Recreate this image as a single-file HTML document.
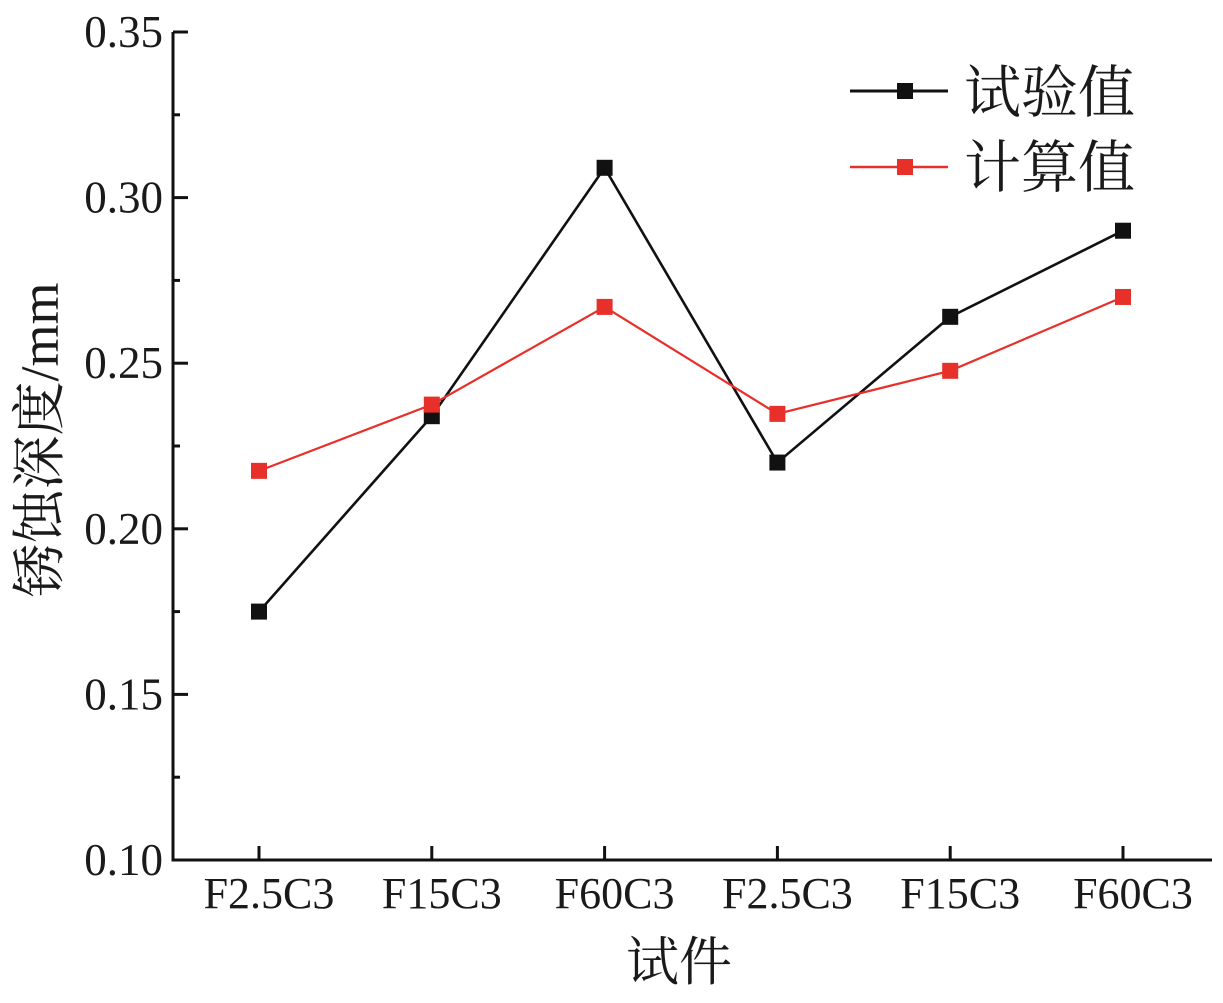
<!DOCTYPE html>
<html><head><meta charset="utf-8"><style>
body{margin:0;background:#fff}
svg text{font-family:"Liberation Serif","Noto Serif CJK SC",serif;fill:#1a1a1a}
</style></head><body>
<svg width="1223" height="998" xmlns="http://www.w3.org/2000/svg">
<g id="axes"></g><g id="series"></g>
<g>
<line x1="850" y1="91" x2="948" y2="91" stroke="#111" stroke-width="3"/>
<rect x="897" y="83" width="16" height="16" fill="#111"/>
<text x="964" y="112" font-size="57">试验值</text>
<line x1="850" y1="167" x2="948" y2="167" stroke="#e8302a" stroke-width="2.6"/>
<rect x="897" y="159" width="16" height="16" fill="#e8302a"/>
<text x="964" y="187" font-size="57">计算值</text>
</g>
<text x="679" y="980" font-size="53" text-anchor="middle">试件</text>
<text transform="translate(58,440) rotate(-90)" font-size="54" text-anchor="middle">锈蚀深度/mm</text>
</svg>
<script>
const categories=["F2.5C3","F15C3","F60C3","F2.5C3","F15C3","F60C3"];
const testValues=[0.175,0.234,0.309,0.22,0.264,0.29];
const calcValues=[0.2175,0.2375,0.267,0.2347,0.2477,0.27];
const yTicks=[0.10,0.15,0.20,0.25,0.30,0.35];
const NS="http://www.w3.org/2000/svg";
const L=173,R=1212,T=32,B=860;
const y=v=>B-(v-0.10)/0.25*(B-T);
const x=i=>259+i*172.8;
function mk(t,a,p){const e=document.createElementNS(NS,t);for(const k in a)e.setAttribute(k,a[k]);p.appendChild(e);return e;}
const ax=document.getElementById('axes'),se=document.getElementById('series');
let e=mk('path',{d:`M${L},${T} V${B} H${R}`,fill:'none',stroke:'#111','stroke-width':3},ax);

yTicks.forEach((v,i)=>{
 e=mk('line',{x1:L,x2:L+15,y1:y(v),y2:y(v),stroke:'#111','stroke-width':3},ax);
 
 if(i<yTicks.length-1){e=mk('line',{x1:L,x2:L+7,y1:y(v+0.025),y2:y(v+0.025),stroke:'#111','stroke-width':3},ax);
 }
 e=mk('text',{x:163,y:y(v)+15,'font-size':45,'text-anchor':'end'},ax);e.textContent=v.toFixed(2);
 
});
categories.forEach((c,i)=>{
 e=mk('line',{x1:x(i),x2:x(i),y1:B,y2:B-14,stroke:'#111','stroke-width':3},ax);
 
 e=mk('text',{x:x(i)+10,y:908,'font-size':44,'text-anchor':'middle'},ax);e.textContent=c;
 
});
function series(vals,col,w,name){
 e=mk('polyline',{points:vals.map((v,i)=>x(i)+','+y(v)).join(' '),fill:'none',stroke:col,'stroke-width':w},se);
 
 vals.forEach((v,i)=>{e=mk('rect',{x:x(i)-8,y:y(v)-8,width:16,height:16,fill:col},se);
 });
}
series(testValues,'#111',2.6,'test-value');
series(calcValues,'#e8302a',2.2,'calc-value');
</script>
</body></html>
